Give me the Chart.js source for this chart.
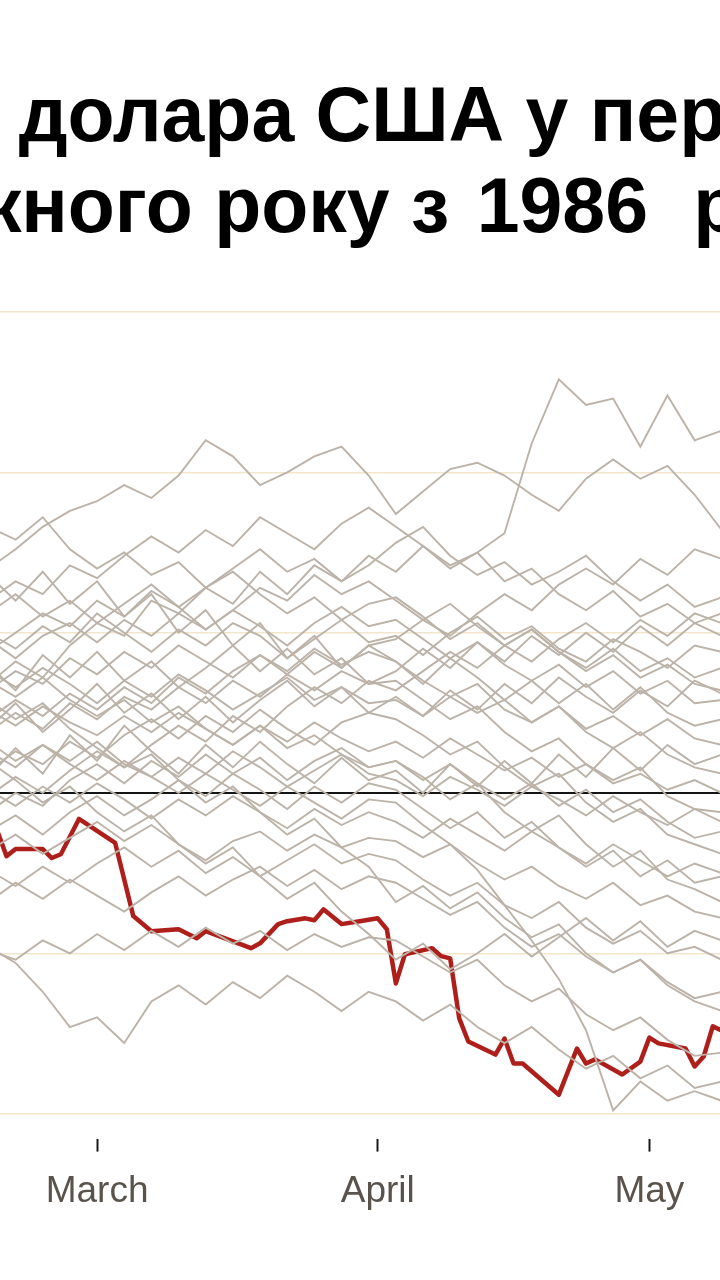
<!DOCTYPE html>
<html>
<head>
<meta charset="utf-8">
<script src="https://cdn.jsdelivr.net/npm/chart.js@4.4.1/dist/chart.umd.min.js"></script>
<style>
  html, body { margin: 0; padding: 0; background: #fff; }
  body { width: 720px; height: 1280px; overflow: hidden; position: relative; }
  .title {
    position: absolute;
    white-space: nowrap;
    font-family: "Liberation Sans", Arial, sans-serif;
    font-weight: bold;
    font-size: 77px;
    line-height: 93px;
    color: #000;
  }
  #t1 { top: 68px; }
  #t2 { top: 159px; }
  #yr { margin-left: 6px; margin-right: 24px; }
  #wrap { position: absolute; left: 0; top: 0; width: 720px; height: 1280px; }
</style>
</head>
<body>
<div class="title" id="t1"><span id="p1">Динаміка </span>долара США у перші місяці</div>
<div class="title" id="t2"><span id="p2">кож</span>ного року з <span id="yr">1986</span> року</div>
<div id="wrap"><canvas id="chart"></canvas></div>
<script>
// visible window of the x axis, in day-of-year (Jan 1 = 0)
const X_MIN = 48.28;
const X_MAX = 127.8;

// month ticks
const tickDays = [59, 90, 120];
const tickLabels = ['March', 'April', 'May'];

// y gridlines, % change
const gridValues = [-10, -5, 0, 5, 10, 15];

// 2025, the highlighted year
const redDays = [48, 49, 50, 53, 54, 55, 57, 61, 63, 65, 68, 70, 71, 76, 77, 79, 80, 82, 83, 84, 86, 88,
  90, 91, 92, 93, 96, 97, 98, 99, 100, 103, 104, 105, 106, 110, 112, 113, 114, 117, 119, 120, 121, 124,
  125, 126, 127, 128];
const redValues = [-1.2, -1.97, -1.75, -1.75, -2.03, -1.91, -0.81, -1.56, -3.84, -4.31, -4.25, -4.53, -4.31,
  -4.84, -4.69, -4.09, -4.0, -3.91, -3.97, -3.63, -4.09, -4.0, -3.91, -4.25, -5.94, -5.03, -4.84, -5.09,
  -5.16, -7.03, -7.75, -8.16, -7.66, -8.44, -8.44, -9.41, -7.97, -8.44, -8.31, -8.78, -8.38, -7.63, -7.81,
  -7.97, -8.53, -8.22, -7.28, -7.41];

// earlier years, sampled on a shared day grid
const greyDays = [47, 50, 53, 56, 59, 62, 65, 68, 71, 74, 77, 80, 83, 86, 89, 92, 95, 98, 101, 104, 107,
  110, 113, 116, 119, 122, 125, 128];
const greyValues = [
  [3.4, 4.1, 3.6, 4.6, 5.3, 4.9, 6.0, 5.6, 6.4, 5.9, 6.9, 6.2, 7.1, 6.6, 7.4, 6.9, 7.7, 7.1, 7.5, 8.1, 10.9, 12.9, 12.1, 12.3, 10.8, 12.4, 11.0, 11.3],
  [7.0, 7.6, 8.3, 8.8, 9.1, 9.6, 9.2, 9.9, 11.0, 10.5, 9.6, 10.0, 10.5, 10.8, 9.9, 8.7, 9.4, 10.1, 10.3, 9.9, 9.3, 8.8, 9.8, 10.4, 9.8, 10.2, 9.3, 8.2],
  [8.3, 7.9, 8.6, 7.6, 7.0, 7.5, 6.8, 7.2, 6.4, 7.0, 7.6, 6.9, 7.3, 6.6, 7.1, 7.8, 8.3, 7.4, 6.8, 7.2, 6.5, 6.9, 7.4, 6.6, 6.0, 6.5, 5.8, 6.1],
  [6.0, 6.6, 6.2, 7.1, 6.7, 7.4, 8.0, 7.5, 8.2, 7.7, 8.6, 8.1, 7.6, 8.4, 8.9, 8.3, 7.7, 7.0, 7.5, 6.6, 7.0, 6.2, 5.7, 6.3, 5.5, 5.9, 5.3, 5.6],
  [5.0, 4.5, 5.2, 4.7, 5.6, 5.0, 4.4, 5.1, 4.6, 5.3, 4.9, 4.2, 4.8, 5.4, 4.7, 4.9, 4.3, 5.0, 5.5, 4.8, 5.2, 4.5, 4.1, 4.8, 4.4, 3.9, 4.6, 4.4],
  [4.4, 5.0, 5.6, 5.2, 6.0, 5.5, 6.3, 5.8, 5.1, 5.7, 6.4, 6.0, 6.8, 6.2, 6.6, 6.0, 5.4, 5.9, 5.2, 4.6, 5.1, 4.4, 3.8, 4.3, 3.6, 4.0, 3.4, 3.2],
  [3.8, 3.3, 3.9, 3.4, 2.8, 3.5, 3.0, 3.7, 3.2, 2.6, 3.1, 3.6, 2.9, 3.3, 2.8, 2.9, 2.4, 3.0, 2.5, 2.9, 2.2, 2.7, 2.0, 2.4, 1.8, 2.3, 1.7, 1.5],
  [3.2, 3.8, 3.4, 4.2, 3.7, 4.4, 3.9, 4.6, 4.1, 3.6, 4.3, 3.8, 4.5, 4.0, 4.4, 4.1, 3.5, 3.0, 3.4, 2.6, 2.2, 2.7, 1.9, 1.4, 1.9, 1.2, 0.8, 0.6],
  [2.6, 2.1, 2.7, 2.2, 1.8, 2.4, 1.9, 2.5, 2.0, 1.5, 2.1, 1.6, 2.2, 1.7, 1.3, 1.6, 1.1, 1.7, 1.2, 0.7, 1.1, 0.5, 0.9, 0.3, 0.6, 0.1, 0.4, 0.0],
  [1.9, 2.5, 2.0, 2.8, 2.3, 3.0, 2.6, 3.3, 2.8, 3.5, 3.0, 3.7, 3.2, 3.8, 3.4, 3.5, 2.9, 2.3, 2.7, 1.9, 1.3, 1.7, 0.9, 0.4, 0.8, -0.1, -0.5, -0.6],
  [1.3, 0.8, 1.5, 1.0, 1.6, 0.9, 0.5, 1.1, 0.6, 1.3, 0.8, 0.2, 0.7, 1.2, 0.6, 0.4, -0.1, 0.5, 0.1, -0.4, 0.2, -0.2, -0.7, -0.1, -0.6, -1.0, -0.5, -0.9],
  [0.7, 1.3, 0.9, 1.6, 1.1, 1.8, 2.3, 1.7, 2.4, 1.9, 2.6, 2.0, 1.5, 2.2, 2.5, 2.3, 1.8, 1.2, 1.6, 0.8, 0.2, 0.6, -0.3, -0.9, -0.5, -1.3, -1.6, -1.9],
  [0.1, -0.4, 0.2, -0.3, 0.3, -0.2, -0.8, -0.2, -0.7, -0.1, -0.6, -1.1, -0.5, -1.0, -0.6, -0.9, -1.4, -0.8, -1.3, -1.8, -1.2, -1.7, -2.2, -1.6, -2.1, -2.6, -2.2, -2.5],
  [-0.6, 0.0, -0.4, 0.4, 0.9, 0.3, 1.0, 0.5, 1.2, 0.6, 1.1, 0.4, 1.0, 1.4, 0.8, 1.0, 0.5, -0.2, 0.3, -0.6, -1.2, -0.7, -1.6, -2.3, -1.8, -2.7, -3.0, -3.4],
  [-1.8, -1.3, -1.9, -1.4, -0.9, -1.5, -1.0, -1.6, -2.1, -1.5, -1.2, -1.8, -1.3, -1.7, -1.4, -1.5, -2.0, -1.6, -2.2, -2.7, -2.3, -2.9, -3.3, -2.8, -3.5, -3.2, -3.7, -3.9],
  [-2.4, -2.9, -2.3, -2.8, -2.2, -1.7, -2.3, -1.8, -2.5, -2.0, -2.6, -2.1, -1.6, -2.2, -1.9, -2.1, -2.7, -3.2, -2.8, -3.5, -3.9, -3.4, -4.2, -4.7, -4.3, -5.0, -4.8, -5.2],
  [-3.4, -2.8, -3.3, -2.7, -3.2, -3.7, -3.1, -2.6, -3.2, -2.7, -2.3, -2.9, -2.4, -3.0, -2.6, -2.8, -3.3, -3.8, -3.4, -4.2, -4.8, -4.4, -5.1, -5.6, -5.2, -5.9, -6.4, -6.2],
  [-4.9, -5.2, -4.6, -5.0, -4.4, -4.9, -4.3, -4.8, -4.2, -4.7, -4.3, -4.9, -4.4, -4.8, -4.5, -4.6, -5.1, -5.6, -5.2, -6.0, -6.5, -6.1, -6.9, -7.4, -7.0, -7.7, -8.2, -8.1],
  [-4.8, -5.3, -6.2, -7.3, -7.0, -7.8, -6.5, -6.0, -6.6, -5.9, -6.4, -5.7, -6.2, -6.8, -6.2, -6.5, -7.1, -6.6, -7.3, -7.8, -7.3, -8.0, -8.6, -8.2, -8.9, -8.5, -9.2, -9.0],
  [1.6, 1.0, 1.5, 0.9, 0.4, 1.0, 0.5, 0.0, 0.6, 0.1, -0.4, 0.2, -0.3, -0.8, -0.2, -0.3, -1.0, -1.6, -2.4, -3.5, -4.6, -5.8, -7.4, -9.9, -9.0, -9.6, -9.3, -9.6],
  [2.9, 2.3, 2.8, 2.0, 1.4, 0.8, 1.2, 0.4, -0.3, 0.2, -0.6, -1.3, -0.8, -1.7, -2.3, -3.4, -2.9, -3.6, -3.1, -3.9, -4.5, -4.1, -5.0, -5.6, -5.2, -6.0, -6.5, -6.8],
  [4.8, 4.2, 4.9, 5.3, 4.7, 5.4, 4.9, 5.6, 5.1, 5.7, 5.2, 4.6, 5.3, 5.8, 5.2, 5.4, 4.8, 4.2, 4.7, 4.0, 3.5, 4.0, 3.3, 3.8, 3.1, 3.5, 2.8, 2.9],
  [3.5, 3.0, 3.6, 2.9, 2.4, 2.9, 2.2, 2.7, 2.0, 1.5, 2.1, 1.4, 1.8, 1.2, 0.8, 1.0, 0.4, 0.9, 0.3, -0.2, 0.3, -0.4, 0.1, -0.6, -0.2, -0.9, -1.4, -1.2],
  [1.0, 0.4, -0.3, 0.2, -0.6, -1.2, -0.7, -1.6, -2.2, -1.7, -2.6, -3.3, -2.8, -3.7, -4.4, -5.2, -4.7, -5.5, -5.0, -4.4, -5.1, -4.5, -3.9, -4.6, -4.0, -4.8, -4.3, -4.6],
  [2.3, 2.9, 2.4, 3.1, 2.6, 3.3, 2.8, 3.6, 3.1, 3.8, 4.3, 3.7, 4.4, 3.9, 4.6, 4.8, 5.4, 4.9, 5.6, 6.2, 5.7, 6.5, 7.0, 6.5, 7.3, 6.8, 7.6, 7.3],
  [-0.1, 0.5, 0.0, 0.7, 1.3, 0.8, 1.5, 2.1, 1.6, 2.4, 1.9, 2.7, 3.3, 2.8, 3.5, 3.2, 3.8, 4.4, 3.9, 4.6, 4.1, 4.8, 5.3, 4.7, 5.4, 4.9, 5.6, 5.3],
  [-1.2, -0.7, -1.3, -0.6, -0.1, -0.7, -0.2, 0.4, -0.1, 0.6, 0.1, -0.5, 0.2, -0.3, 0.3, 0.1, -0.5, -1.1, -0.6, -1.4, -0.9, -1.7, -2.3, -1.8, -2.6, -2.1, -2.8, -2.6],
  [5.6, 6.2, 5.5, 6.0, 5.3, 5.9, 6.5, 5.8, 6.4, 6.9, 6.2, 5.6, 6.1, 5.4, 5.9, 6.1, 5.5, 4.8, 5.3, 4.6, 5.1, 4.4, 3.9, 4.5, 3.8, 4.2, 3.6, 3.9],
  [4.0, 3.2, 4.3, 3.6, 4.4, 3.5, 4.1, 3.3, 3.9, 4.6, 3.8, 4.5, 3.7, 4.2, 3.4, 3.8, 4.5, 3.9, 4.7, 4.1, 4.9, 4.3, 5.0, 4.4, 5.2, 4.6, 5.3, 4.9],
  [2.0, 2.8, 1.9, 2.6, 3.4, 2.5, 3.1, 2.3, 3.0, 2.2, 2.9, 3.5, 2.7, 3.3, 2.5, 3.0, 2.4, 3.2, 2.6, 3.4, 2.8, 3.6, 3.0, 2.5, 3.2, 2.7, 3.5, 3.1],
  [0.5, 1.4, 0.6, 1.8, 1.0, 2.1, 1.3, 0.6, 1.5, 0.8, 1.6, 0.9, 0.3, 1.1, 0.4, 0.7, 0.0, 0.9, 0.2, 1.0, 0.3, 1.2, 0.5, 1.4, 0.7, 1.5, 0.9, 1.2],
  [6.8, 6.0, 6.9, 5.9, 6.6, 5.5, 6.2, 5.0, 5.7, 4.6, 5.3, 4.2, 4.9, 3.9, 4.6, 4.1, 3.4, 4.2, 3.6, 2.9, 3.5, 2.8, 3.4, 2.6, 3.3, 2.5, 2.1, 2.3]
];

// line up the visible parts of the cropped title
function placeTitle() {
  const t1 = document.getElementById('t1');
  const t2 = document.getElementById('t2');
  t1.style.left = (19 - document.getElementById('p1').offsetWidth) + 'px';
  t2.style.left = (21 - document.getElementById('p2').offsetWidth) + 'px';
}
placeTitle();

function toPoints(days, values) {
  return days.map(function(d, i) { return { x: d, y: values[i] }; });
}

const datasets = greyValues.map(function(vals) {
  return {
    data: toPoints(greyDays, vals),
    borderColor: '#bcb2a7',
    borderWidth: 1.9,
    pointRadius: 0,
    tension: 0
  };
});
datasets.push({
  data: toPoints(redDays, redValues),
  borderColor: '#ae1f1b',
  borderWidth: 4.5,
  pointRadius: 0,
  tension: 0,
  borderJoinStyle: 'round'
});

const ctx = document.getElementById('chart').getContext('2d');
new Chart(ctx, {
  type: 'line',
  data: { datasets: datasets },
  options: {
    responsive: true,
    maintainAspectRatio: false,
    animation: false,
    layout: { padding: { top: 296, bottom: 48, left: 0, right: 0 } },
    plugins: { legend: { display: false }, tooltip: { enabled: false } },
    scales: {
      x: {
        type: 'linear',
        min: X_MIN,
        max: X_MAX,
        border: { display: false },
        grid: {
          drawOnChartArea: false,
          drawTicks: true,
          tickLength: 13,
          tickWidth: 2,
          tickColor: '#1a1a1a'
        },
        afterBuildTicks: function(scale) {
          scale.ticks = tickDays.map(function(d) { return { value: d }; });
        },
        ticks: {
          padding: 18,
          autoSkip: false,
          maxRotation: 0,
          color: '#5a534c',
          font: { family: '"Liberation Sans", Arial, sans-serif', size: 37 },
          callback: function(value) {
            const i = tickDays.indexOf(value);
            return i >= 0 ? tickLabels[i] : '';
          }
        }
      },
      y: {
        min: -10.78,
        max: 15.5,
        border: { display: false },
        afterBuildTicks: function(scale) {
          scale.ticks = gridValues.map(function(v) { return { value: v }; });
        },
        ticks: { display: false },
        grid: {
          drawTicks: false,
          color: function(c) { return c.tick && c.tick.value === 0 ? '#141414' : '#f3e5cb'; },
          lineWidth: function(c) { return c.tick && c.tick.value === 0 ? 2 : 1.5; }
        }
      }
    }
  }
});
</script>
</body>
</html>
